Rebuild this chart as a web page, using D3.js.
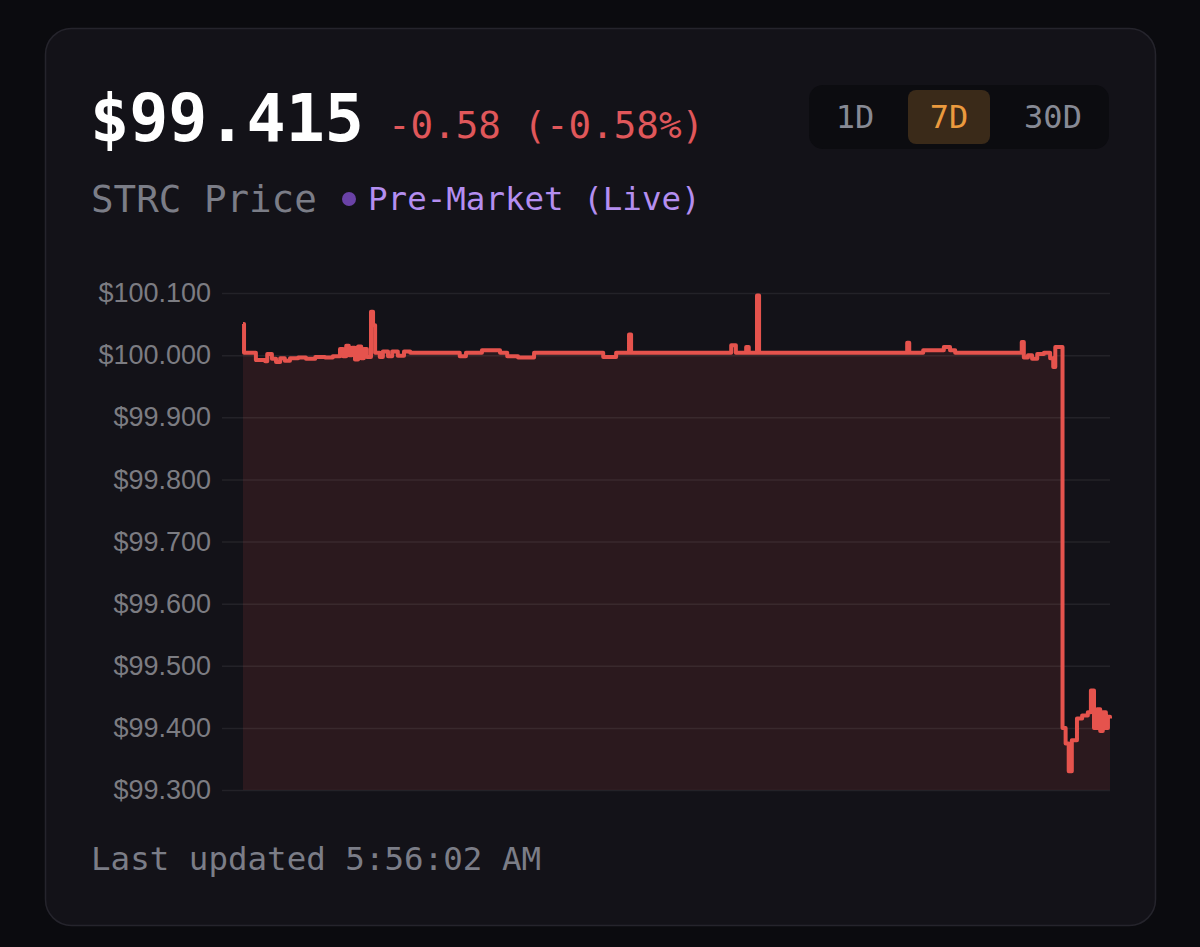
<!DOCTYPE html>
<html>
<head>
<meta charset="utf-8">
<script src="https://cdn.jsdelivr.net/npm/d3@7"></script>
<style>
  html, body { margin: 0; padding: 0; background: #0b0b0f; }
  svg { display: block; }
</style>
</head>
<body>
<div id="chart-area"></div>
<script>

// price data, hours since start of the 7D window
let hours = [0, 0.2, 2.5, 4.3, 4.7, 5.6, 6.4, 7.2, 8.1, 9.1, 10.7, 12.2, 14.0, 15.9, 17.4,
  18.8, 19.4, 20.0, 20.5, 21.1, 21.7, 22.3, 22.9, 23.4, 24.0, 24.8, 25.2, 25.6,
  26.5, 27.1, 28.1, 28.9, 30.0, 31.2, 32.4, 42.0, 43.2, 46.3, 49.8, 51.2, 53.3, 56.4,
  69.8, 72.3, 74.8, 75.2, 94.6, 95.5, 97.5, 98.0, 99.6, 100.0,
  128.7, 129.1, 131.8, 135.8, 137.0, 138.0,
  150.9, 151.3, 152.1, 152.9, 153.9, 155.2, 156.4, 157.0, 157.4,
  158.8, 159.4, 160.0, 160.6, 161.6, 162.6, 163.7, 164.3, 164.9, 165.5, 166.1, 166.6, 167.2, 167.6, 168];

let prices = [100.050, 100.004, 99.992, 99.990, 100.002, 99.994, 99.989, 99.995, 99.991, 99.995, 99.996, 99.994, 99.997, 99.996, 99.998,
  100.010, 99.998, 100.015, 100.000, 100.012, 99.993, 100.014, 99.995, 100.010, 99.997, 100.070, 100.048, 100.004,
  99.997, 100.006, 99.998, 100.006, 99.999, 100.006, 100.004, 99.998, 100.004, 100.008, 100.004, 99.998, 99.996, 100.004,
  99.997, 100.004, 100.033, 100.004, 100.016, 100.004, 100.013, 100.004, 100.096, 100.004,
  100.020, 100.004, 100.008, 100.013, 100.008, 100.004,
  100.021, 99.996, 100.000, 99.994, 100.002, 100.004, 99.995, 99.981, 100.013,
  99.400, 99.375, 99.330, 99.380, 99.415, 99.420, 99.425, 99.460, 99.400, 99.430, 99.395, 99.425, 99.400, 99.418, 99.415];

let yTicks = [99.3, 99.4, 99.5, 99.6, 99.7, 99.8, 99.9, 100.0, 100.1];
let ranges = ["1D", "7D", "30D"];
let activeRange = "7D";

let lastPrice = "$99.415";
let changeText = "-0.58 (-0.58%)";
let tickerText = "STRC Price";
let sessionText = "Pre-Market (Live)";
let updatedText = "Last updated 5:56:02 AM";

let data = hours.map((h, i) => ({ h: h, v: prices[i] }));

let width = 1200,
    height = 947;

let mono = "'DejaVu Sans Mono', 'Liberation Mono', monospace";

let svg = d3.select("#chart-area").append("svg")
    .attr("width", width)
    .attr("height", height);

svg.append("rect")
  .attr("width", width).attr("height", height)
  .attr("fill", "#0b0b0f");

// card
svg.append("rect")
  .attr("x", 45.5).attr("y", 28.5)
  .attr("width", 1110).attr("height", 897)
  .attr("rx", 26)
  .attr("fill", "#131218")
  .attr("stroke", "#25242c")
  .attr("stroke-width", 1.5);

// header
svg.append("text")
  .attr("x", 90).attr("y", 141)
  .attr("font-family", mono)
  .attr("font-size", 65)
  .attr("font-weight", "bold")
  .attr("fill", "#ffffff")
  .text(lastPrice);

svg.append("text")
  .attr("x", 388).attr("y", 138)
  .attr("font-family", mono)
  .attr("font-size", 37.5)
  .attr("fill", "#e0575a")
  .text(changeText);

svg.append("text")
  .attr("x", 91).attr("y", 212)
  .attr("font-family", mono)
  .attr("font-size", 37.5)
  .attr("fill", "#7b7d87")
  .text(tickerText);

svg.append("circle")
  .attr("cx", 349).attr("cy", 199).attr("r", 7)
  .attr("fill", "#6a42a6");

svg.append("text")
  .attr("x", 368).attr("y", 210)
  .attr("font-family", mono)
  .attr("font-size", 32.5)
  .attr("fill", "#b48ef0")
  .text(sessionText);

// range toggle
let toggle = svg.append("g");
toggle.append("rect")
  .attr("x", 809).attr("y", 85)
  .attr("width", 300).attr("height", 64)
  .attr("rx", 14)
  .attr("fill", "#0c0c10");

let btnX = d3.scaleOrdinal().domain(ranges).range([855, 949, 1053]);

toggle.selectAll(".btn-bg")
  .data(ranges.filter(r => r === activeRange))
  .enter().append("rect")
  .attr("class", "btn-bg")
  .attr("x", d => btnX(d) - 41).attr("y", 90)
  .attr("width", 82).attr("height", 54)
  .attr("rx", 8)
  .attr("fill", "#3a2a19");

toggle.selectAll(".btn")
  .data(ranges)
  .enter().append("text")
  .attr("class", "btn")
  .attr("x", d => btnX(d)).attr("y", 128)
  .attr("text-anchor", "middle")
  .attr("font-family", mono)
  .attr("font-size", 32)
  .attr("fill", d => d === activeRange ? "#eb9a3e" : "#878a95")
  .text(d => d);

// chart
let x = d3.scaleLinear().domain([0, 168]).range([243, 1110]);
let y = d3.scaleLinear().domain([99.3, 100.1]).range([790, 293]);

let area = d3.area()
  .curve(d3.curveStepAfter)
  .x(d => x(d.h))
  .y0(y(99.3))
  .y1(d => y(d.v));

let line = d3.line()
  .curve(d3.curveStepAfter)
  .x(d => x(d.h))
  .y(d => y(d.v));

svg.append("path")
  .datum(data)
  .attr("d", area)
  .attr("fill", "#e0524c")
  .attr("fill-opacity", 0.12);

let yAxis = svg.append("g")
  .attr("transform", "translate(222,0)")
  .call(d3.axisLeft(y)
    .tickValues(yTicks)
    .tickSize(-888)
    .tickPadding(11)
    .tickFormat(d => "$" + d3.format(".3f")(d)));

yAxis.select(".domain").remove();
yAxis.selectAll(".tick line")
  .attr("stroke", "#ffffff")
  .attr("stroke-opacity", 0.07)
  .attr("stroke-width", 1.5);
yAxis.selectAll(".tick text")
  .attr("font-family", "'Liberation Sans', Arial, sans-serif")
  .attr("font-size", 27)
  .attr("fill", "#7c7c82");

svg.append("path")
  .datum(data)
  .attr("d", line)
  .attr("fill", "none")
  .attr("stroke", "#e5534d")
  .attr("stroke-width", 4)
  .attr("stroke-linejoin", "round");

// footer
svg.append("text")
  .attr("x", 91).attr("y", 870)
  .attr("font-family", mono)
  .attr("font-size", 32.5)
  .attr("fill", "#7b7d87")
  .text(updatedText);

</script>
</body>
</html>
